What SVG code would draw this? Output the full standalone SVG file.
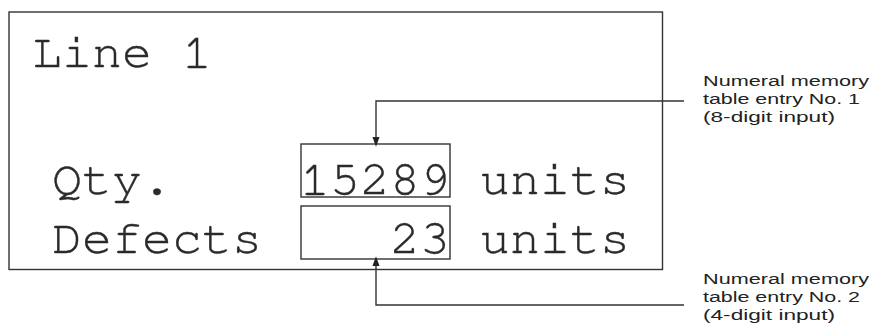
<svg xmlns="http://www.w3.org/2000/svg" width="875" height="330" viewBox="0 0 875 330">
<style>
.box{fill:none;stroke:#333;stroke-width:1.4}
.mono{font-family:"Nimbus Mono PS","FreeMono","Courier New","Liberation Mono",monospace;font-size:48px;fill:#2a2a2a;stroke:#2a2a2a;stroke-width:0.4}
.lbl{font-family:"Liberation Sans",Arial,sans-serif;font-size:15.5px;fill:#222}
.conn{fill:none;stroke:#333;stroke-width:1.4}
</style>
<defs>
<marker id="ah" markerWidth="10" markerHeight="14" refX="10" refY="5" orient="auto" markerUnits="userSpaceOnUse" viewBox="0 0 14 10">
<path d="M0,0 L14,5 L0,10 Z" fill="#222"/>
</marker>
</defs>
<g id="display">
<rect class="box" x="9" y="12" width="653.5" height="257.5"/>
<text class="mono" x="32" y="67" textLength="180" lengthAdjust="spacingAndGlyphs">Line 1</text>
<text class="mono" x="52" y="194" textLength="120" lengthAdjust="spacingAndGlyphs">Qty.</text>
<text class="mono" x="52" y="253" textLength="210" lengthAdjust="spacingAndGlyphs">Defects</text>
<text class="mono" x="480" y="194" textLength="150" lengthAdjust="spacingAndGlyphs">units</text>
<text class="mono" x="480" y="253" textLength="150" lengthAdjust="spacingAndGlyphs">units</text>
</g>
<g id="entry1">
<rect class="box" x="301" y="144" width="149" height="53"/>
<text class="mono" x="300" y="194" textLength="150" lengthAdjust="spacingAndGlyphs">15289</text>
</g>
<g id="entry2">
<rect class="box" x="301" y="206" width="149" height="53"/>
<text class="mono" x="390" y="253" textLength="60" lengthAdjust="spacingAndGlyphs">23</text>
</g>
<g id="label1">
<text class="lbl" x="703" y="86" textLength="166" lengthAdjust="spacingAndGlyphs">Numeral memory</text>
<text class="lbl" x="703" y="104" textLength="157" lengthAdjust="spacingAndGlyphs">table entry No. 1</text>
<text class="lbl" x="703" y="122" textLength="132" lengthAdjust="spacingAndGlyphs">(8-digit input)</text>
</g>
<g id="label2">
<text class="lbl" x="703" y="284" textLength="166" lengthAdjust="spacingAndGlyphs">Numeral memory</text>
<text class="lbl" x="703" y="302" textLength="157" lengthAdjust="spacingAndGlyphs">table entry No. 2</text>
<text class="lbl" x="703" y="320" textLength="132" lengthAdjust="spacingAndGlyphs">(4-digit input)</text>
</g>
<g id="connectors">
<polyline class="conn" points="684,101 376,101 376,144" marker-end="url(#ah)"/>
<polyline class="conn" points="684,305 376,305 376,259" marker-end="url(#ah)"/>
</g>
</svg>
